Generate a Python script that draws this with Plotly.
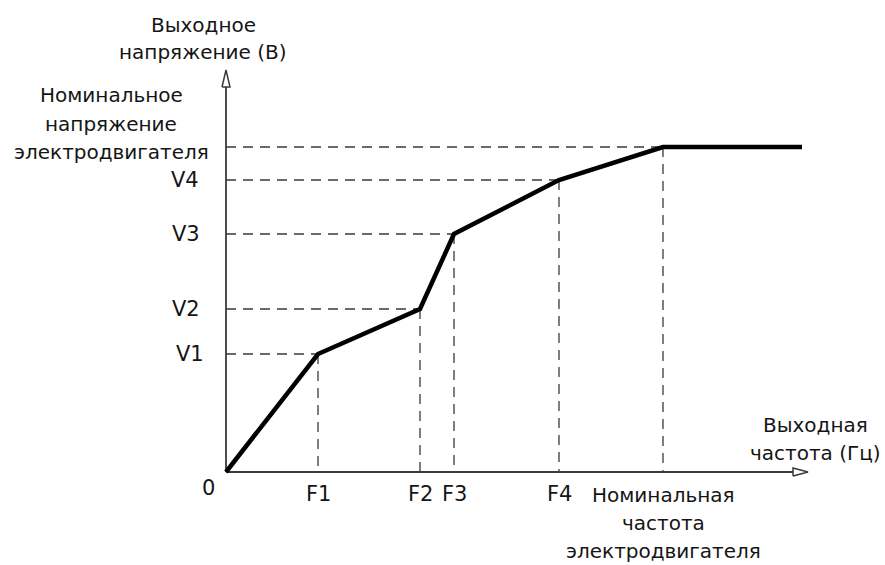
import plotly.graph_objects as go

# Breakpoints of the V/F curve (frequency, voltage), arbitrary units from origin
freq_pts = [0, 92, 194, 228, 333, 437]
volt_pts = [0, 118, 163, 238, 292, 325]
freq_end = 576          # flat part continues past nominal frequency

freq_labels = ["F1", "F2", "F3", "F4"]
volt_labels = ["V1", "V2", "V3", "V4"]

y_axis_top = 402        # tip of the voltage axis arrow
x_axis_end = 582        # tip of the frequency axis arrow

FONT = "DejaVu Sans, Verdana, sans-serif"
TXT = "#151515"
AX = "#3a3a3a"
DASH = "10px,7px"

fig = go.Figure()

# dashed guides from every breakpoint (incl. nominal point) to both axes
for f, v in zip(freq_pts[1:], volt_pts[1:]):
    fig.add_trace(go.Scatter(x=[0, f], y=[v, v], mode="lines",
                             line=dict(color=AX, width=1.3, dash=DASH)))
    fig.add_trace(go.Scatter(x=[f, f], y=[v, 0], mode="lines",
                             line=dict(color=AX, width=1.3, dash=DASH)))

# axes
fig.add_trace(go.Scatter(x=[0, 0], y=[0, y_axis_top - 17], mode="lines",
                         line=dict(color=AX, width=1.8)))
fig.add_trace(go.Scatter(x=[0, x_axis_end - 15], y=[0, 0], mode="lines",
                         line=dict(color=AX, width=1.8)))
# open arrowheads
fig.add_trace(go.Scatter(x=[-4, 0, 4, -4], y=[y_axis_top - 17, y_axis_top, y_axis_top - 17, y_axis_top - 17],
                         mode="lines", line=dict(color=AX, width=1.5)))
fig.add_trace(go.Scatter(x=[x_axis_end - 15, x_axis_end, x_axis_end - 15, x_axis_end - 15], y=[-4, 0, 4, -4],
                         mode="lines", line=dict(color=AX, width=1.5)))

# the characteristic
fig.add_trace(go.Scatter(x=freq_pts + [freq_end], y=volt_pts + [volt_pts[-1]], mode="lines",
                         line=dict(color="black", width=4.5)))

ann = []
def label(x, y, text, xanchor="center", size=20):
    ann.append(dict(x=x, y=y, xref="x", yref="y", text=text, showarrow=False,
                    xanchor=xanchor, yanchor="middle",
                    font=dict(family=FONT, size=size, color=TXT)))

for f, t in zip(freq_pts[1:5], freq_labels):
    label(f, -22, t, size=21)
for v, t, dx in zip(volt_pts[1:5], volt_labels, [-20, -24, -24, -25]):
    label(dx, v, t, xanchor="right", size=21)
label(-18, -16, "0", size=21)

label(-23, 447, "Выходное")
label(-23, 420, "напряжение (В)")
label(-115, 377, "Номинальное")
label(-115, 348, "напряжение")
label(-115, 320, "электродвигателя")

label(589, 47, "Выходная")
label(589, 19, "частота (Гц)")

label(437, -23, "Номинальная")
label(437, -51, "частота")
label(437, -79, "электродвигателя")

fig.update_layout(
    width=885, height=565,
    margin=dict(l=0, r=0, t=0, b=0),
    paper_bgcolor="white", plot_bgcolor="white",
    showlegend=False, hovermode=False,
    annotations=ann,
    xaxis=dict(range=[-226, 659], visible=False, fixedrange=True),
    yaxis=dict(range=[-93, 472], visible=False, fixedrange=True),
)

fig.write_html("out.html")
